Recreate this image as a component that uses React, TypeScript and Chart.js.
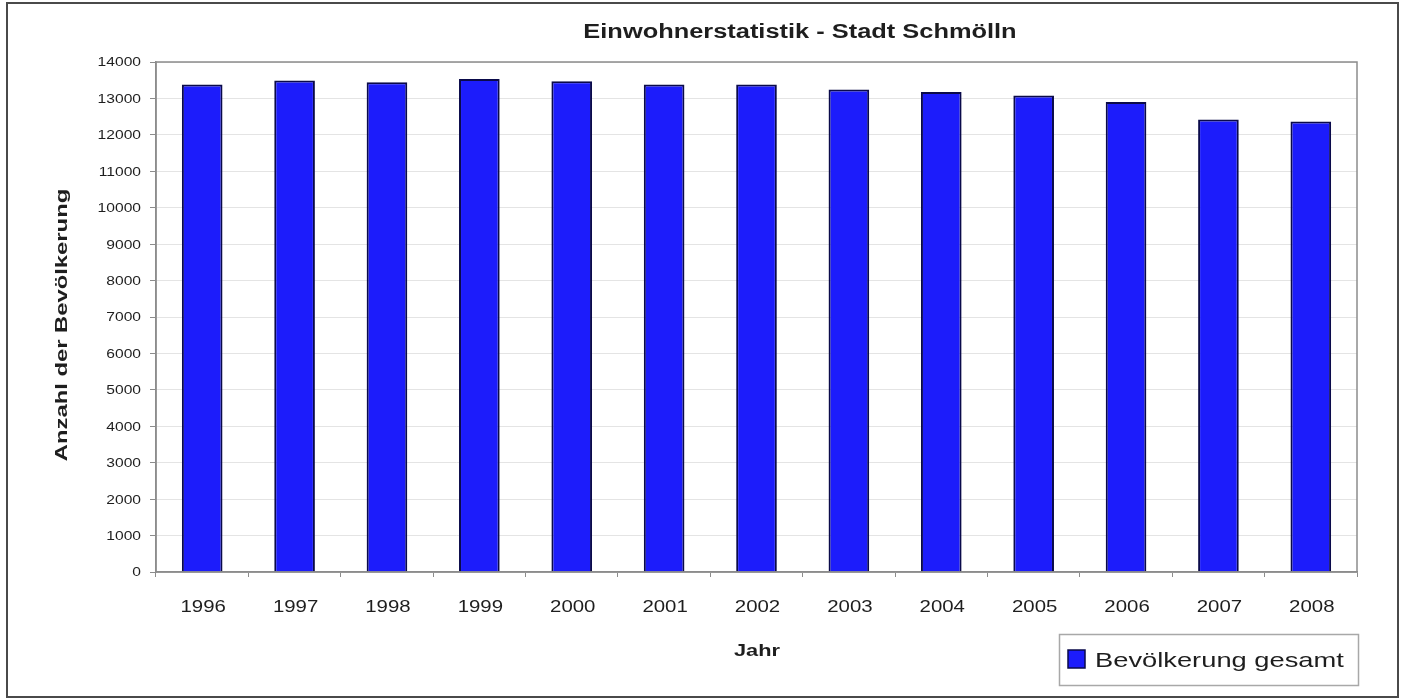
import React, { useEffect, useRef } from 'react';
import { Chart, registerables } from 'chart.js';

Chart.register(...registerables);

// ---- data ----
const years = ['1996', '1997', '1998', '1999', '2000', '2001', '2002', '2003', '2004', '2005', '2006', '2007', '2008'];
const population = [13380, 13490, 13445, 13535, 13470, 13380, 13380, 13245, 13175, 13080, 12900, 12425, 12365];
const yMin = 0;
const yMax = 14000;
const yStep = 1000;
const chartTitle = 'Einwohnerstatistik - Stadt Schmölln';
const xAxisTitle = 'Jahr';
const yAxisTitle = 'Anzahl der Bevölkerung';
const seriesLabel = 'Bevölkerung gesamt';

const FONT = '"Liberation Sans", Arial, Helvetica, sans-serif';
const TEXT = '#1e1e1e';
const BAR_FILL = '#1c1cfb';
const BAR_EDGE = '#0a0a4a';

// draws text horizontally widened by factor sx; align: 'left' | 'center' | 'right'
function wide(ctx: any, text: string, x: number, y: number, font: string, sx: number, align: string) {
  ctx.save();
  ctx.font = font;
  ctx.letterSpacing = '0px';
  const w = ctx.measureText(text).width * sx;
  let left = x;
  if (align === 'center') left = x - w / 2;
  else if (align === 'right') left = x - w;
  ctx.translate(left, y);
  ctx.scale(sx, 1);
  ctx.textAlign = 'left';
  ctx.textBaseline = 'alphabetic';
  ctx.fillStyle = TEXT;
  ctx.fillText(text, 0, 0);
  ctx.restore();
}

const decorPlugin = {
  id: 'decorPlugin',
  afterDraw(chart: any) {
    const ctx = chart.ctx;
    const a = chart.chartArea;
    ctx.save();
    // plot frame
    ctx.strokeStyle = '#8c8c8c';
    ctx.lineWidth = 1.5;
    ctx.strokeRect(a.left, a.top, a.right - a.left, a.bottom - a.top);
    // outer border
    ctx.strokeStyle = '#4a4a4a';
    ctx.lineWidth = 2;
    ctx.strokeRect(7, 3, 1391, 694);
    ctx.restore();

    // tick labels, positioned by the chart's own scales
    const xs = chart.scales.x;
    const ys = chart.scales.y;
    ys.ticks.forEach((t: any) => {
      const py = ys.getPixelForValue(t.value);
      wide(ctx, String(t.label), 141, py + 4.4, `12px ${FONT}`, 1.3, 'right');
    });
    xs.ticks.forEach((t: any, i: number) => {
      const px = xs.getPixelForTick(i);
      wide(ctx, String(xs.getLabelForValue(t.value)), px + 1, 611.5, `17px ${FONT}`, 1.2, 'center');
    });

    // titles
    wide(ctx, chartTitle, 800, 38, `bold 20px ${FONT}`, 1.27, 'center');
    ctx.save();
    ctx.translate(67, 325);
    ctx.rotate(-Math.PI / 2);
    wide(ctx, yAxisTitle, 0, 0, `bold 17px ${FONT}`, 1.4, 'center');
    ctx.restore();
    wide(ctx, xAxisTitle, 757, 656, `bold 17px ${FONT}`, 1.28, 'center');

    // legend
    const ds = chart.data.datasets[0];
    ctx.save();
    ctx.strokeStyle = '#a8a8a8';
    ctx.lineWidth = 1.5;
    ctx.strokeRect(1059.5, 634.5, 299, 51);
    ctx.fillStyle = ds.backgroundColor;
    ctx.fillRect(1068, 650, 17, 18);
    ctx.strokeStyle = ds.borderColor;
    ctx.lineWidth = 1.5;
    ctx.strokeRect(1068, 650, 17, 18);
    ctx.restore();
    wide(ctx, ds.label, 1095, 667, `21px ${FONT}`, 1.3, 'left');
  },
};

export default function App() {
  const ref = useRef<HTMLCanvasElement>(null);

  useEffect(() => {
    if (!ref.current) return;
    const chart = new Chart(ref.current, {
      type: 'bar',
      data: {
        labels: years,
        datasets: [
          {
            label: seriesLabel,
            data: population,
            backgroundColor: BAR_FILL,
            borderColor: BAR_EDGE,
            borderWidth: 2,
            barPercentage: 0.44,
            categoryPercentage: 1,
          },
        ],
      },
      options: {
        responsive: false,
        animation: false,
        devicePixelRatio: 1,
        layout: { padding: { top: 62, right: 45, left: 0, bottom: 0 } },
        plugins: {
          legend: { display: false },
          title: { display: false },
          tooltip: { enabled: false },
        },
        scales: {
          x: {
            afterFit: (s: any) => {
              s.height = 126;
            },
            grid: {
              display: true,
              drawOnChartArea: false,
              drawTicks: true,
              tickLength: 5,
              color: '#8c8c8c',
              tickColor: '#8c8c8c',
              offset: true,
            },
            border: { display: true, color: '#8c8c8c', width: 1.5 },
            ticks: {
              display: false,
              autoSkip: false,
              maxRotation: 0,
            },
          },
          y: {
            min: yMin,
            max: yMax,
            afterFit: (s: any) => {
              s.width = 156;
            },
            grid: {
              color: '#e4e4e4',
              tickColor: '#8c8c8c',
              tickLength: 6,
              drawTicks: true,
            },
            border: { display: true, color: '#8c8c8c', width: 1.5 },
            ticks: {
              display: false,
              stepSize: yStep,
              callback: (v: any) => String(v),
            },
          },
        },
      },
      plugins: [decorPlugin],
    });
    return () => chart.destroy();
  }, []);

  return (
    <canvas
      ref={ref}
      width={1402}
      height={698}
      style={{ position: 'absolute', left: 0, top: 0, display: 'block' }}
    />
  );
}
